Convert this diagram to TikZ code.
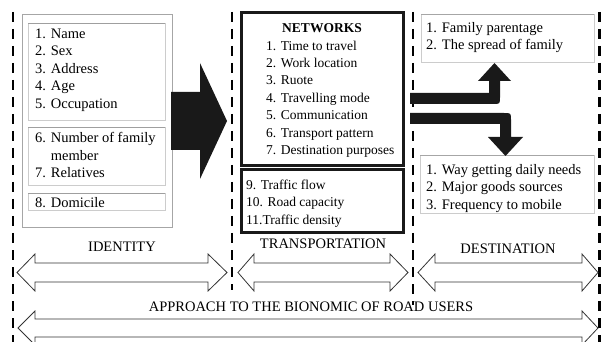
\documentclass[tikz,border=0pt]{standalone}
\usepackage{fontspec}
\setmainfont{Liberation Serif}
\usetikzlibrary{positioning, calc}

\begin{document}
\begin{tikzpicture}[x=1pt, y=-1pt,
    listtext/.style={anchor=north west, inner sep=0pt, align=left, font=\fontsize{14.5}{17.5}\selectfont},
    nettext/.style={anchor=north west, inner sep=0pt, align=left, font=\fontsize{13.5}{17.4}\selectfont},
    coltitle/.style={inner sep=0pt, font=\fontsize{14.5}{17.5}\selectfont},
    divider/.style={dash pattern=on 10pt off 7pt, black},
    thinbox/.style={draw=gray!40, line width=0.6pt},
    thickbox/.style={draw=black!90, line width=3pt},
    blockarrow/.style={fill=black!90},
    hollowarrow/.style={draw=black!80, line width=0.8pt, fill=white}]
    \useasboundingbox (0,0) rectangle (603,342);

    % column dividers
    \draw[divider, line width=1.6pt] (13,12) -- (13,342);
    \draw[divider, line width=2.6pt] (232,12) -- (232,290);
    \draw[divider, line width=2.6pt] (413,12) -- (413,305);
    \draw[divider, line width=3pt] (599,12) -- (599,342);

    % identity
    \draw[thinbox, draw=gray!70] (22,14) rectangle (172,227);
    \draw[thinbox] (28,23) rectangle (165,120);
    \draw[thinbox] (28,127) rectangle (165,185);
    \draw[thinbox] (28,193) rectangle (165,210);
    \draw[gray!75, line width=0.6pt] (28,23) -- (165,23) (28,127) -- (165,127) (28,193) -- (165,193);
    \node[listtext] (idlist) at (35,28.5) {1. Name\\2. Sex\\3. Address\\4. Age\\5. Occupation};
    \node[listtext] (famlist) at (35,132.5) {6. Number of family\\\phantom{6. }member\\7. Relatives};
    \node[listtext] (homelist) at (35,197.5) {8. Domicile};

    % transportation
    \draw[thickbox] (241,13) rectangle (403,165.5);
    \draw[thickbox] (241,170) rectangle (403,233);
    \node[coltitle, font=\fontsize{13.5}{17.4}\selectfont\bfseries] (nettitle) at (322,28) {NETWORKS};
    \node[nettext] (netlist) at (266,40.5) {1. Time to travel\\2. Work location\\3. Ruote\\4. Travelling mode\\5. Communication\\6. Transport pattern\\7. Destination purposes};
    \node[nettext] (trafflist) at (246,179.5) {9. Traffic flow\\10. Road capacity\\11.Traffic density};

    % destination
    \draw[thinbox] (421,14) rectangle (594,62);
    \draw[thinbox] (420,155) rectangle (594,213);
    \draw[gray!70, line width=0.6pt] (421,14) -- (594,14) (420,155) -- (594,155);
    \node[listtext] (famdest) at (426,22) {1. Family parentage\\2. The spread of family};
    \node[listtext] (needlist) at (426,164) {1. Way getting daily needs\\2. Major goods sources\\3. Frequency to mobile};

    % black arrows
    \fill[blockarrow] (171,92) -- (200,92) -- (200,63) -- (227,121) -- (200,179) -- (200,150) -- (171,150) -- cycle;
    \fill[blockarrow] (410,93) -- (489,93) -- (489,81) -- (478,81) -- (494.5,63) -- (511,81) -- (500,81)
        -- (500,97) .. controls (500,104) .. (493,104) -- (410,104) -- cycle;
    \fill[blockarrow] (410,113) -- (504,113) .. controls (511,113) .. (511,120) -- (511,137) -- (523,137)
        -- (505.5,156) -- (488,137) -- (500,137) -- (500,124) -- (410,124) -- cycle;

    % hollow arrows
    \foreach \xa/\xb/\xc/\xd in {17/35/208/227, 238/254/390/408, 418/435/582/598}
        \draw[hollowarrow] (\xa,272.5) -- (\xb,254) -- (\xb,263) -- (\xc,263) -- (\xc,254) -- (\xd,272.5)
            -- (\xc,291) -- (\xc,282) -- (\xb,282) -- (\xb,291) -- cycle;
    \draw[hollowarrow] (18,328) -- (35,311) -- (35,319) -- (582,319) -- (582,311) -- (598,328)
        -- (582,345) -- (582,337) -- (35,337) -- (35,345) -- cycle;

    % column titles
    \node[coltitle] (identity) at (122,247) {IDENTITY};
    \node[coltitle] (transport) at (323,244) {TRANSPORTATION};
    \node[coltitle] (destination) at (508,249) {DESTINATION};
    \node[coltitle] (approach) at (311,307) {APPROACH TO THE BIONOMIC OF ROAD USERS};
\end{tikzpicture}
\end{document}
